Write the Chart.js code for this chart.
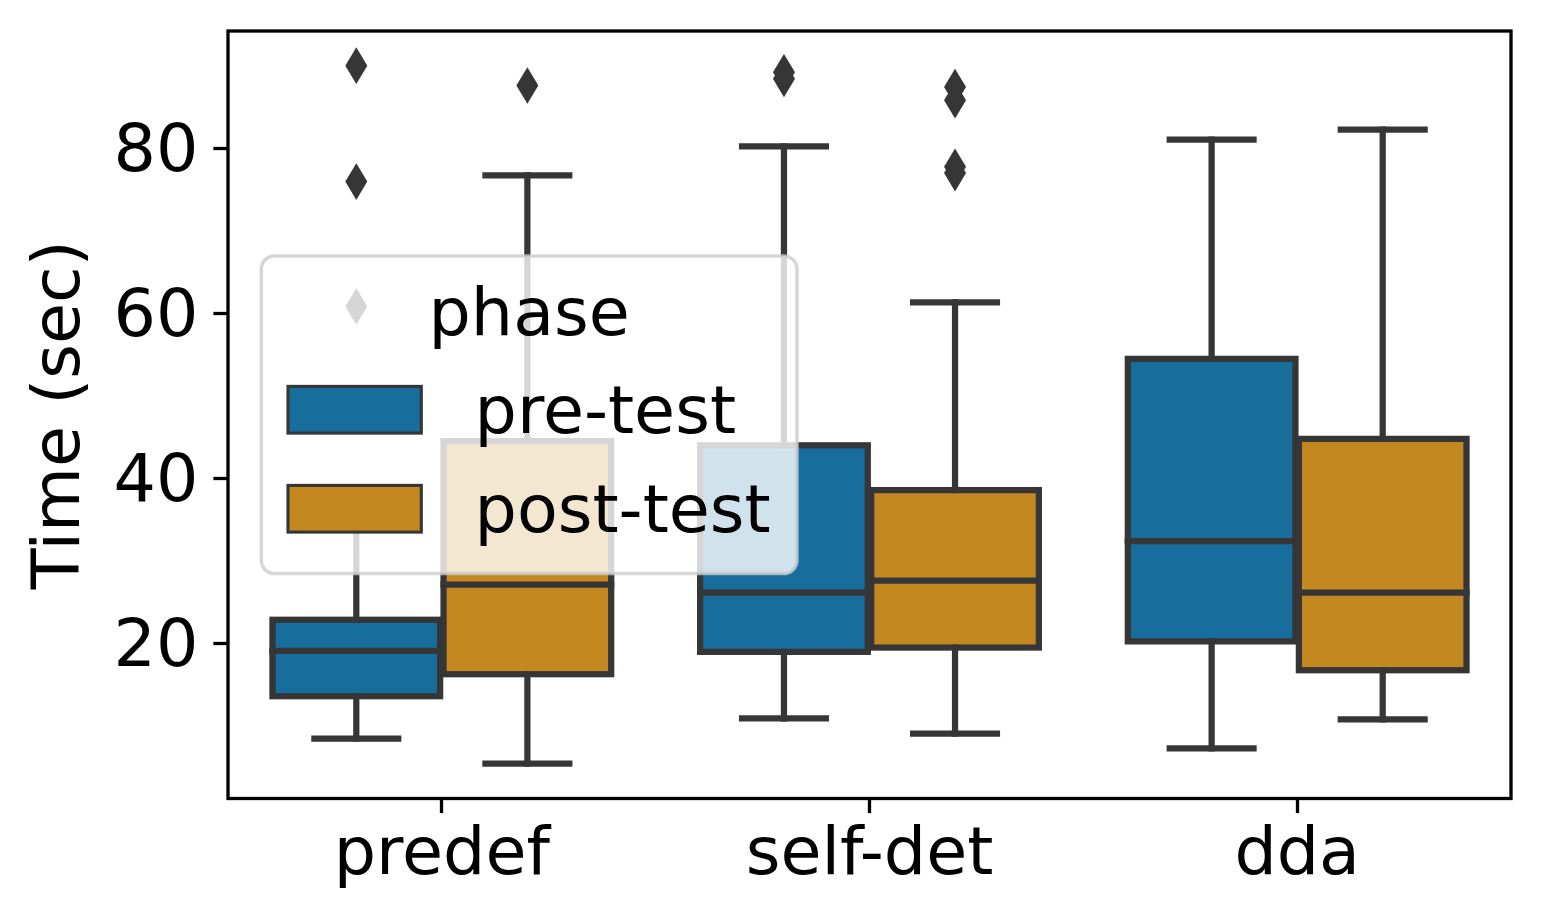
<!DOCTYPE html>
<html>
<head>
<meta charset="utf-8">
<script src="https://cdn.jsdelivr.net/npm/chart.js@4.4.1/dist/chart.umd.min.js"></script>
<style>
html,body{margin:0;padding:0;background:#ffffff;}
canvas{display:block;}
</style>
</head>
<body>
<canvas id="c" width="1541" height="923"></canvas>
<script>
// ---------- data ----------
const categories = ['predef', 'self-det', 'dda'];
const phases = ['pre-test', 'post-test'];
const yTicks = [20, 40, 60, 80];

const preQ1     = [13.65, 19.03, 20.3];
const preMedian = [19.15, 26.2, 32.44];
const preQ3     = [22.92, 44.07, 54.55];
const preLow    = [8.52, 10.95, 7.33];
const preHigh   = [35.5, 80.3, 81.13];
const preOutliers = [[90.1, 76.04, 60.9], [89.3, 88.5], []];

const postQ1     = [16.32, 19.55, 16.8];
const postMedian = [27.19, 27.67, 26.2];
const postQ3     = [44.58, 38.64, 44.85];
const postLow    = [5.49, 9.13, 10.85];
const postHigh   = [76.8, 61.4, 82.33];
const postOutliers = [[87.7], [87.5, 85.9, 77.85, 77.07], []];

// ---------- styles ----------
const FONT = '"DejaVu Sans", sans-serif';
const FS = 66.7;
const LINE = '#363636';
const LW = 6.25;
const COLORS = ['#176d9c', '#c38820'];

const stats = [
  {q1: preQ1, med: preMedian, q3: preQ3, lo: preLow, hi: preHigh, out: preOutliers},
  {q1: postQ1, med: postMedian, q3: postQ3, lo: postLow, hi: postHigh, out: postOutliers}
];

Chart.defaults.font.family = FONT;
Chart.defaults.color = '#000';

function seg(ctx, x1, y1, x2, y2) {
  ctx.beginPath(); ctx.moveTo(x1, y1); ctx.lineTo(x2, y2); ctx.stroke();
}
function diamond(ctx, x, y) {
  ctx.beginPath();
  ctx.moveTo(x, y - 18.3); ctx.lineTo(x + 11, y); ctx.lineTo(x, y + 18.3); ctx.lineTo(x - 11, y);
  ctx.closePath(); ctx.fill();
}
function roundRect(ctx, x, y, w, h, r) {
  ctx.beginPath();
  ctx.moveTo(x + r, y);
  ctx.lineTo(x + w - r, y); ctx.arcTo(x + w, y, x + w, y + r, r);
  ctx.lineTo(x + w, y + h - r); ctx.arcTo(x + w, y + h, x + w - r, y + h, r);
  ctx.lineTo(x + r, y + h); ctx.arcTo(x, y + h, x, y + h - r, r);
  ctx.lineTo(x, y + r); ctx.arcTo(x, y, x + r, y, r);
  ctx.closePath();
}

const boxPlugin = {
  id: 'boxExtras',
  afterDatasetsDraw(chart) {
    const ctx = chart.ctx, ys = chart.scales.y, ca = chart.chartArea;
    ctx.save();
    ctx.strokeStyle = LINE; ctx.fillStyle = LINE;
    ctx.lineWidth = LW; ctx.lineCap = 'square'; ctx.lineJoin = 'miter';
    stats.forEach((s, d) => {
      const meta = chart.getDatasetMeta(d);
      meta.data.forEach((bar, i) => {
        const cx = bar.x, w = bar.width, l = cx - w / 2, r = cx + w / 2;
        const pq1 = ys.getPixelForValue(s.q1[i]);
        const pq3 = ys.getPixelForValue(s.q3[i]);
        const pm = ys.getPixelForValue(s.med[i]);
        const plo = ys.getPixelForValue(s.lo[i]);
        const phi = ys.getPixelForValue(s.hi[i]);
        seg(ctx, cx, pq1, cx, plo);
        seg(ctx, cx, pq3, cx, phi);
        seg(ctx, cx - w / 4, plo, cx + w / 4, plo);
        seg(ctx, cx - w / 4, phi, cx + w / 4, phi);
        ctx.strokeRect(l, pq3, w, pq1 - pq3);
        seg(ctx, l, pm, r, pm);
        s.out[i].forEach(v => diamond(ctx, cx, ys.getPixelForValue(v)));
      });
    });
    // axes frame
    ctx.lineCap = 'butt';
    ctx.strokeStyle = '#000'; ctx.lineWidth = 3.3;
    ctx.strokeRect(ca.left, ca.top, ca.right - ca.left, ca.bottom - ca.top);
    ctx.restore();
  },
  afterDraw(chart) {
    const ctx = chart.ctx, ca = chart.chartArea;
    const L = ca.left + 33.3, T = (ca.top + ca.bottom) / 2 - 158.85;
    const W = 535.7, H = 317.7;
    ctx.save();
    roundRect(ctx, L, T, W, H, 13.3);
    ctx.fillStyle = 'rgba(255,255,255,0.8)'; ctx.fill();
    ctx.strokeStyle = 'rgba(204,204,204,0.8)'; ctx.lineWidth = 3.5; ctx.stroke();
    ctx.font = FS + 'px ' + FONT;
    ctx.fillStyle = '#000'; ctx.textAlign = 'center'; ctx.textBaseline = 'alphabetic';
    ctx.fillText('phase', L + W / 2, T + 79.5);
    phases.forEach((p, i) => {
      const hy = T + 130.5 + i * 99;
      ctx.fillStyle = COLORS[i];
      ctx.fillRect(L + 26.7, hy, 133.3, 46.7);
      ctx.strokeStyle = LINE; ctx.lineWidth = 3.1;
      ctx.strokeRect(L + 26.7, hy, 133.3, 46.7);
      ctx.fillStyle = '#000'; ctx.textAlign = 'left';
      ctx.fillText(p, L + 213.3, T + 177.5 + i * 99);
    });
    ctx.restore();
  }
};

new Chart(document.getElementById('c'), {
  type: 'bar',
  data: {
    labels: categories,
    datasets: phases.map((p, d) => ({
      label: p,
      data: stats[d].q1.map((v, i) => [v, stats[d].q3[i]]),
      backgroundColor: COLORS[d],
      borderWidth: 0,
      categoryPercentage: 0.8,
      barPercentage: 0.98
    }))
  },
  options: {
    responsive: false,
    animation: false,
    devicePixelRatio: 1,
    layout: {padding: {top: 31, right: 30, left: 0, bottom: 0}},
    plugins: {legend: {display: false}, tooltip: {enabled: false}},
    scales: {
      x: {
        type: 'category',
        offset: true,
        grid: {display: true, drawOnChartArea: false, drawTicks: true, tickLength: 14.6, tickWidth: 3.3, tickColor: '#000', offset: false},
        border: {display: false},
        ticks: {color: '#000', font: {size: FS, lineHeight: 1.2}, padding: 4, maxRotation: 0, minRotation: 0, autoSkip: false},
        afterFit(s) { s.height = 124.5; s.paddingLeft = 0; s.paddingRight = 0; }
      },
      y: {
        type: 'linear',
        min: 1.25,
        max: 94.3,
        afterBuildTicks(s) { s.ticks = yTicks.map(v => ({value: v})); },
        grid: {display: true, drawOnChartArea: false, drawTicks: true, tickLength: 14.6, tickWidth: 3.3, tickColor: '#000'},
        border: {display: false},
        ticks: {color: '#000', font: {size: FS, lineHeight: 1.2}, padding: 15, labelOffset: 5},
        title: {display: true, text: 'Time (sec)', color: '#000', font: {size: FS, lineHeight: 1.2}, padding: {top: 22, bottom: 0}},
        afterFit(s) { s.width = 228; s.paddingTop = 0; s.paddingBottom = 0; }
      }
    }
  },
  plugins: [boxPlugin]
});
</script>
</body>
</html>
